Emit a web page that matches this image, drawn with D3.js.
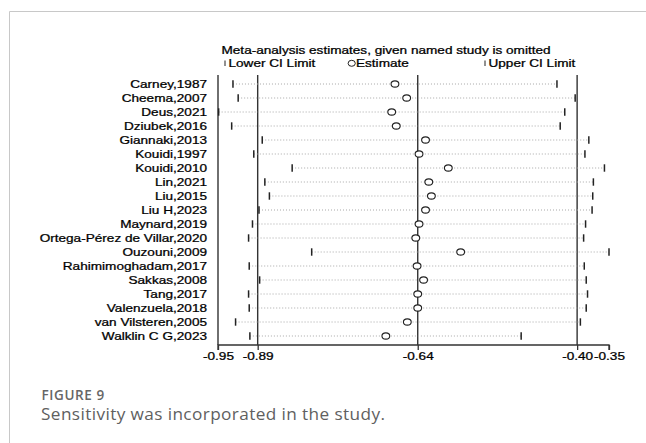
<!DOCTYPE html>
<html>
<head>
<meta charset="utf-8">
<script src="https://cdn.jsdelivr.net/npm/d3@7/dist/d3.min.js"></script>
<style>
  html, body { margin: 0; padding: 0; background: #fff; }
  svg { display: block; }
</style>
</head>
<body>
<svg id="chart" width="646" height="443"></svg>
<script>
// ---- data ----
const studies = [
  "Carney,1987", "Cheema,2007", "Deus,2021", "Dziubek,2016", "Giannaki,2013",
  "Kouidi,1997", "Kouidi,2010", "Lin,2021", "Liu,2015", "Liu H,2023",
  "Maynard,2019", "Ortega-Pérez de Villar,2020", "Ouzouni,2009", "Rahimimoghadam,2017",
  "Sakkas,2008", "Tang,2017", "Valenzuela,2018", "van Vilsteren,2005", "Walklin C G,2023"
];
const lowerCI = [
  -0.928, -0.920, -0.950, -0.930, -0.883,
  -0.896, -0.837, -0.879, -0.872, -0.888,
  -0.898, -0.904, -0.807, -0.903,
  -0.887, -0.904, -0.903, -0.924, -0.902
];
const estimate = [
  -0.679, -0.661, -0.684, -0.677, -0.632,
  -0.642, -0.597, -0.627, -0.623, -0.632,
  -0.642, -0.647, -0.578, -0.645,
  -0.635, -0.644, -0.644, -0.660, -0.693
];
const upperCI = [
  -0.430, -0.402, -0.418, -0.425, -0.381,
  -0.387, -0.357, -0.374, -0.375, -0.376,
  -0.386, -0.389, -0.350, -0.388,
  -0.385, -0.383, -0.385, -0.394, -0.485
];
const refLines = [-0.951, -0.890, -0.644, -0.399];   // overall CI bounds and estimate
const tickValues = [-0.951, -0.890, -0.644, -0.399, -0.350];
const tickLabels = ["-0.95", "-0.89", "-0.64", "-0.40", "-0.35"];
const titleText = "Meta-analysis estimates, given named study is omitted";
const legendItems = ["Lower CI Limit", "Estimate", "Upper CI Limit"];
const figureLabel = "FIGURE 9";
const captionText = "Sensitivity was incorporated in the study.";

// ---- layout ----
const svg = d3.select("#chart");
const plot = { left: 218, right: 609, top: 75, bottom: 345 };
const SX = 1.32;           // horizontal stretch of the original picture
const FS = 10.3;
const FONT = "'Liberation Sans', Arial, sans-serif";

const x = d3.scaleLinear().domain([tickValues[0], tickValues[tickValues.length - 1]])
  .range([plot.left, plot.right]);
const y = d3.scalePoint().domain(studies).range([84, 336]);

// frame of the figure card
svg.append("line").attr("x1", 9.5).attr("x2", 646).attr("y1", 11.5).attr("y2", 11.5)
  .attr("stroke", "#c8c8c8").attr("stroke-width", 1);
svg.append("line").attr("x1", 9.5).attr("x2", 9.5).attr("y1", 11.5).attr("y2", 443)
  .attr("stroke", "#c8c8c8").attr("stroke-width", 1);

function stext(g, txt, px, py, anchor, size) {
  return g.append("text")
    .attr("transform", `translate(${px},${py}) scale(${SX},1)`)
    .attr("text-anchor", anchor || "start")
    .attr("font-family", FONT)
    .attr("font-size", size || FS)
    .attr("fill", "#000")
    .attr("stroke", "#000").attr("stroke-width", 0.25)
    .text(txt);
}

// title
stext(svg, titleText, 221.5, 53.5, "start");

// legend
const lg = svg.append("g");
lg.append("line").attr("x1", 225).attr("x2", 225).attr("y1", 60.5).attr("y2", 66)
  .attr("stroke", "#222").attr("stroke-width", 1);
stext(lg, legendItems[0], 228.5, 66.5, "start");
lg.append("ellipse").attr("cx", 351.7).attr("cy", 63.3).attr("rx", 3.6).attr("ry", 3)
  .attr("fill", "#fff").attr("stroke", "#222").attr("stroke-width", 1);
stext(lg, legendItems[1], 356, 66.5, "start");
lg.append("line").attr("x1", 485).attr("x2", 485).attr("y1", 60.5).attr("y2", 66)
  .attr("stroke", "#222").attr("stroke-width", 1);
stext(lg, legendItems[2], 488.5, 66.5, "start");

// study labels
const lab = svg.append("g");
studies.forEach(s => stext(lab, s, 207, y(s) + 3.7, "end"));

// reference vertical lines
svg.append("g").selectAll("line").data(refLines).join("line")
  .attr("x1", d => x(d)).attr("x2", d => x(d))
  .attr("y1", plot.top).attr("y2", plot.bottom)
  .attr("stroke", "#333").attr("stroke-width", 1.4);

// dotted CI lines
const rows = studies.map((s, i) => ({ s, lo: lowerCI[i], est: estimate[i], hi: upperCI[i] }));
svg.append("g").selectAll("line").data(rows).join("line")
  .attr("x1", d => x(d.lo)).attr("x2", d => x(d.hi))
  .attr("y1", d => y(d.s)).attr("y2", d => y(d.s))
  .attr("stroke", "#a8a8a8").attr("stroke-width", 1).attr("stroke-dasharray", "1,2");

// CI markers
const marks = svg.append("g");
["lo", "hi"].forEach(k => {
  marks.selectAll("line." + k).data(rows).join("line").attr("class", k)
    .attr("x1", d => x(d[k])).attr("x2", d => x(d[k]))
    .attr("y1", d => y(d.s) - 3.7).attr("y2", d => y(d.s) + 3.7)
    .attr("stroke", "#222").attr("stroke-width", 1.5);
});

// estimate circles
svg.append("g").selectAll("ellipse").data(rows).join("ellipse")
  .attr("cx", d => x(d.est)).attr("cy", d => y(d.s))
  .attr("rx", 3.9).attr("ry", 3.1)
  .attr("fill", "#fff").attr("stroke", "#222").attr("stroke-width", 1.1);

// x axis
const axis = d3.axisBottom(x).tickValues(tickValues).tickSize(5)
  .tickFormat((d, i) => tickLabels[i]);
const ax = svg.append("g").attr("transform", `translate(0,${plot.bottom})`).call(axis);
ax.select(".domain").attr("stroke", "#333").attr("stroke-width", 1.3)
  .attr("d", `M${plot.left},5V0H${plot.right}V5`);
ax.selectAll(".tick line").attr("stroke", "#333").attr("stroke-width", 1.3);
ax.selectAll(".tick text").remove();
ax.selectAll(".tick").each(function (d, i) {
  const t = d3.select(this);
  t.append("text")
    .attr("transform", `translate(0,15) scale(${SX},1)`)
    .attr("text-anchor", "middle")
    .attr("font-family", FONT).attr("font-size", FS).attr("fill", "#000")
    .attr("stroke", "#000").attr("stroke-width", 0.25)
    .text(tickLabels[i]);
});

// caption
svg.append("text").attr("x", 41.5).attr("y", 399.5)
  .attr("font-family", "'Open Sans', sans-serif").attr("font-weight", 600)
  .attr("font-size", 13.5).attr("letter-spacing", 0.6)
  .attr("fill", "#666").text(figureLabel);
svg.append("text").attr("x", 41).attr("y", 420)
  .attr("font-family", "'Open Sans', sans-serif").attr("font-weight", 400)
  .attr("font-size", 17.2).attr("letter-spacing", 0.4)
  .attr("fill", "#606060").text(captionText);
</script>
</body>
</html>
